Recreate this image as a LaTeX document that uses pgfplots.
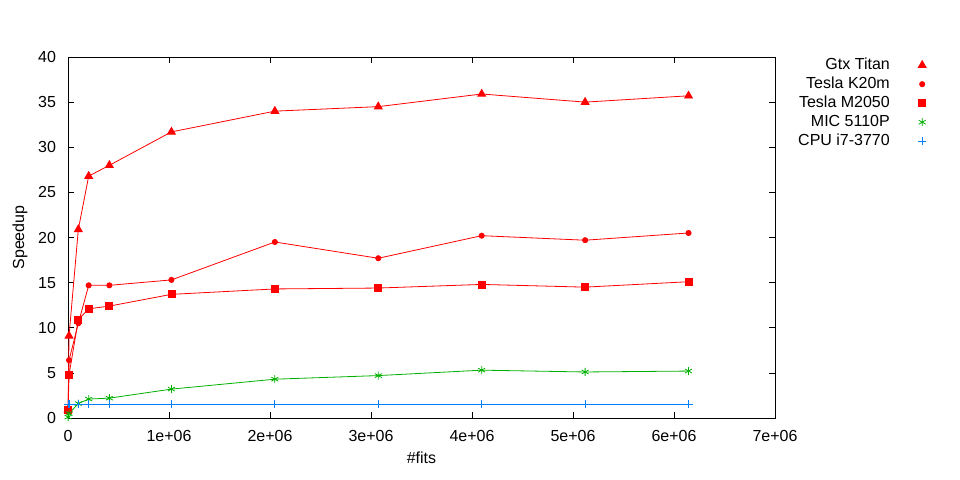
\documentclass[border=0pt]{standalone}
\usepackage{fontspec}
\setmainfont{Liberation Sans}
\usepackage{pgfplots}
\pgfplotsset{compat=1.18}

\definecolor{gpred}{RGB}{255,0,0}
\definecolor{gpgreen}{RGB}{0,176,0}
\definecolor{gpblue}{RGB}{0,128,255}

\begin{document}
\begin{tikzpicture}
\path[use as bounding box] (-68bp,-62bp) rectangle (892bp,418bp);
\begin{axis}[
    scale only axis,
    width=707bp, height=361bp,
    xmin=0, xmax=7000000,
    ymin=0, ymax=40,
    xtick={0,1000000,2000000,3000000,4000000,5000000,6000000,7000000},
    xticklabels={0,1e+06,2e+06,3e+06,4e+06,5e+06,6e+06,7e+06},
    ytick={0,5,...,40},
    scaled x ticks=false,
    tick align=inside,
    major tick length=6bp,
    tick style={black, line width=0.5bp},
    axis line style={line width=0.8bp},
    ticklabel style={font=\fontsize{16bp}{19bp}\selectfont},
    xticklabel style={yshift=-8.5bp},
    yticklabel style={xshift=-8.5bp},
    /pgf/number format/assume math mode=true,
    xlabel={\#fits},
    ylabel={Speedup},
    label style={font=\fontsize{16bp}{19bp}\selectfont},
    xlabel style={yshift=-3.4bp},
    ylabel style={yshift=4bp},
    legend cell align=right,
    legend plot pos=right,
    legend style={draw=none, fill=none, at={(1,1)}, anchor=north west,
        xshift=21bp, yshift=1.5bp, inner sep=0pt,
        font=\fontsize{16bp}{19bp}\selectfont,
        nodes={inner sep=2bp, text height=11.5bp, text depth=3.5bp},
        row sep=0bp},
    legend image code/.code={\path (0,0); \draw[#1, only marks] plot coordinates {(30bp,0bp)};},
    every axis plot/.append style={line width=0.8bp},
]
\addplot[gpred, mark=triangle*, mark size=4.5bp] coordinates {
    (1024,0.9) (10240,9.1) (102400,20.9) (204800,26.8) (409600,28.0)
    (1024000,31.7) (2048000,34.0) (3072000,34.5) (4096000,35.9)
    (5120000,35.0) (6144000,35.7)
};
\addlegendentry{Gtx Titan}
\addplot[gpred, mark=*, mark size=2.6bp] coordinates {
    (1024,1.0) (10240,6.4) (102400,10.5) (204800,14.7) (409600,14.7)
    (1024000,15.3) (2048000,19.5) (3072000,17.7) (4096000,20.2)
    (5120000,19.7) (6144000,20.5)
};
\addlegendentry{Tesla K20m}
\addplot[gpred, mark=square*, mark size=3.5bp] coordinates {
    (1024,0.9) (10240,4.8) (102400,10.9) (204800,12.1) (409600,12.4)
    (1024000,13.7) (2048000,14.3) (3072000,14.4) (4096000,14.8)
    (5120000,14.5) (6144000,15.1)
};
\addlegendentry{Tesla M2050}
\addplot[gpgreen, mark=asterisk, mark size=4bp] coordinates {
    (1024,0.1) (10240,0.5) (102400,1.6) (204800,2.1) (409600,2.2)
    (1024000,3.2) (2048000,4.3) (3072000,4.7) (4096000,5.3)
    (5120000,5.1) (6144000,5.2)
};
\addlegendentry{MIC 5110P}
\addplot[gpblue, mark=+, mark size=4bp] coordinates {
    (1024,1.55) (10240,1.55) (102400,1.55) (204800,1.55) (409600,1.55)
    (1024000,1.55) (2048000,1.55) (3072000,1.55) (4096000,1.55)
    (5120000,1.55) (6144000,1.55)
};
\addlegendentry{CPU i7-3770}
\end{axis}
\end{tikzpicture}
\end{document}
